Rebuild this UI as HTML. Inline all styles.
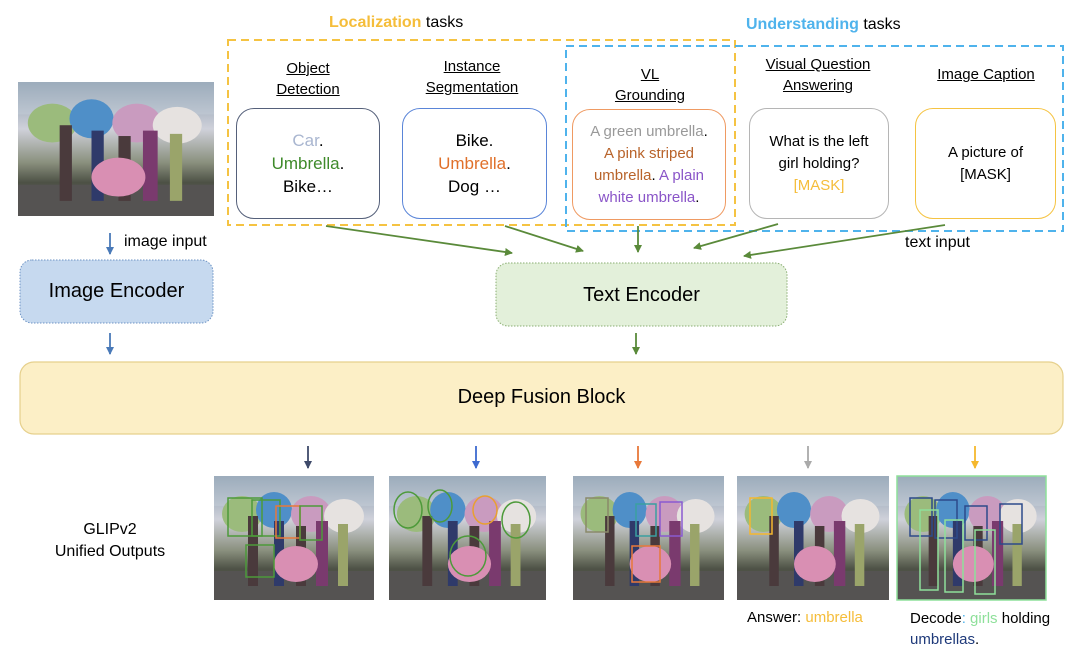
<!DOCTYPE html>
<html><head><meta charset="utf-8"><style>
body{margin:0;width:1080px;height:665px;background:#fff;position:relative;overflow:hidden;font-family:"Liberation Sans",sans-serif;color:#000}
.a{position:absolute}
.h{position:absolute;text-align:center;font-size:15px;line-height:21px;text-decoration:underline}
.box{position:absolute;border:1.5px solid;border-radius:18px;background:#fff;display:flex;align-items:center;justify-content:center;text-align:center;font-size:16px;line-height:22px}
</style></head><body>
<svg class="a" style="left:0;top:0" width="1080" height="665">
<defs>
<linearGradient id="sky" x1="0" y1="0" x2="0" y2="1"><stop offset="0" stop-color="#7f93a6"/><stop offset="0.35" stop-color="#cfd1da"/><stop offset="0.6" stop-color="#8a907e"/><stop offset="0.75" stop-color="#4d5145"/><stop offset="1" stop-color="#5e5c5c"/></linearGradient>
<symbol id="ph" viewBox="0 0 160 124" preserveAspectRatio="none">
<rect width="160" height="124" fill="url(#sky)"/>
<rect x="0" y="0" width="160" height="30" fill="#c9d1dc" opacity=".4"/>
<ellipse cx="28" cy="38" rx="20" ry="18" fill="#9bbb7c"/>
<ellipse cx="60" cy="34" rx="18" ry="18" fill="#4f8fc8"/>
<ellipse cx="97" cy="38" rx="20" ry="18" fill="#c99bbf"/>
<ellipse cx="130" cy="40" rx="20" ry="17" fill="#e6e2e0"/>
<rect x="0" y="95" width="160" height="29" fill="#555352"/>
<g fill="#4a3a3c"><rect x="34" y="40" width="10" height="70"/><rect x="60" y="45" width="10" height="65" fill="#2f3a6a"/><rect x="82" y="50" width="10" height="60"/><rect x="102" y="45" width="12" height="65" fill="#7a3a6e"/><rect x="124" y="48" width="10" height="62" fill="#9aa46a"/></g>
<ellipse cx="82" cy="88" rx="22" ry="18" fill="#d98fb3"/>
</symbol>
<marker id="m" markerWidth="8" markerHeight="8" refX="7" refY="4" orient="auto" markerUnits="userSpaceOnUse"><path d="M0,0 L8,4 L0,8z" fill="context-stroke"/></marker>
</defs>
<use href="#ph" x="18" y="82" width="196" height="134"/>
<rect x="228" y="40" width="507" height="185" fill="none" stroke="#f5c342" stroke-width="2" stroke-dasharray="8,5"/>
<rect x="566" y="46" width="497" height="185" fill="none" stroke="#4fb3ec" stroke-width="2" stroke-dasharray="8,5"/>
<g stroke-width="1.8" fill="none">
<line x1="326" y1="226" x2="512" y2="253" marker-end="url(#m)" stroke="#5a8a3a"/>
<line x1="505" y1="226" x2="583" y2="251" marker-end="url(#m)" stroke="#5a8a3a"/>
<line x1="638" y1="226" x2="638" y2="252" marker-end="url(#m)" stroke="#5a8a3a"/>
<line x1="778" y1="224" x2="694" y2="248" marker-end="url(#m)" stroke="#5a8a3a"/>
<line x1="945" y1="225" x2="744" y2="256" marker-end="url(#m)" stroke="#5a8a3a"/>
<line x1="636" y1="333" x2="636" y2="354" marker-end="url(#m)" stroke="#5a8a3a"/>
<line x1="110" y1="233" x2="110" y2="254" marker-end="url(#m)" stroke="#4a7ab8"/>
<line x1="110" y1="333" x2="110" y2="354" marker-end="url(#m)" stroke="#4a7ab8"/>
<line x1="308" y1="446" x2="308" y2="468" marker-end="url(#m)" stroke="#3e4a6a"/>
<line x1="476" y1="446" x2="476" y2="468" marker-end="url(#m)" stroke="#3d6ad0"/>
<line x1="638" y1="446" x2="638" y2="468" marker-end="url(#m)" stroke="#e8793a"/>
<line x1="808" y1="446" x2="808" y2="468" marker-end="url(#m)" stroke="#aaaaaa"/>
<line x1="975" y1="446" x2="975" y2="468" marker-end="url(#m)" stroke="#f5b82e"/>
</g>
<rect x="20" y="260" width="193" height="63" rx="12" fill="#c6d9ef" stroke="#6d93c4" stroke-dasharray="1.5,1.5"/>
<rect x="496" y="263" width="291" height="63" rx="12" fill="#e3f0da" stroke="#8aae72" stroke-dasharray="1.5,1.5"/>
<rect x="20" y="362" width="1043" height="72" rx="14" fill="#fcefc6" stroke="#e6d08c" stroke-width="1.2"/>
<use href="#ph" x="214" y="476" width="160" height="124"/>
<use href="#ph" x="389" y="476" width="157" height="124"/>
<use href="#ph" x="573" y="476" width="151" height="124"/>
<use href="#ph" x="737" y="476" width="152" height="124"/>
<use href="#ph" x="897" y="476" width="149" height="124"/>
<g fill="none" stroke-width="1.5">
<rect x="228" y="498" width="34" height="38" stroke="#4d9a3a"/><rect x="252" y="500" width="28" height="36" stroke="#4d9a3a"/><rect x="276" y="506" width="24" height="32" stroke="#e8793a"/><rect x="300" y="506" width="22" height="34" stroke="#4d9a3a"/><rect x="246" y="545" width="28" height="32" stroke="#4d9a3a"/>
<ellipse cx="408" cy="510" rx="14" ry="18" stroke="#4d9a3a"/><ellipse cx="440" cy="506" rx="12" ry="16" stroke="#4d9a3a"/><ellipse cx="485" cy="510" rx="12" ry="14" stroke="#e8a030"/><ellipse cx="516" cy="520" rx="14" ry="18" stroke="#4d9a3a"/><ellipse cx="468" cy="556" rx="18" ry="20" stroke="#4d9a3a"/>
<rect x="586" y="498" width="22" height="34" stroke="#8a8a6a"/><rect x="636" y="504" width="20" height="32" stroke="#3aa0a0"/><rect x="660" y="502" width="22" height="34" stroke="#8a5ad0"/><rect x="632" y="546" width="28" height="36" stroke="#e8793a"/>
<rect x="750" y="498" width="22" height="36" stroke="#f5b82e"/>
<rect x="897" y="476" width="149" height="124" stroke="#8ee09a"/><rect x="910" y="498" width="22" height="38" stroke="#2d4a8a"/><rect x="935" y="500" width="22" height="38" stroke="#2d4a8a"/><rect x="965" y="506" width="22" height="34" stroke="#2d4a8a"/><rect x="1000" y="504" width="22" height="40" stroke="#2d4a8a"/><rect x="920" y="510" width="18" height="80" stroke="#8ee09a"/><rect x="945" y="520" width="18" height="72" stroke="#8ee09a"/><rect x="975" y="530" width="20" height="64" stroke="#8ee09a"/>
</g>
</svg>
<div class="a" style="left:329px;top:14px;font-size:16px"><b style="color:#f5bd3a">Localization</b> tasks</div>
<div class="a" style="left:746px;top:16px;font-size:16px"><b style="color:#4fb3ec">Understanding</b> tasks</div>
<div class="h" style="left:248px;top:58px;width:120px">Object<br>Detection</div>
<div class="h" style="left:400px;top:56px;width:144px">Instance<br>Segmentation</div>
<div class="h" style="left:580px;top:64px;width:140px">VL<br>Grounding</div>
<div class="h" style="left:740px;top:54px;width:156px">Visual Question<br>Answering</div>
<div class="h" style="left:912px;top:64px;width:148px">Image Caption</div>
<div class="box" style="left:236px;top:108px;width:142px;height:109px;border-color:#55607a;font-size:17px;line-height:23px"><div><span style="color:#a9b6d0">Car</span>.<br><span style="color:#3e8a2a">Umbrella</span>.<br>Bike…</div></div>
<div class="box" style="left:402px;top:108px;width:143px;height:109px;border-color:#5a85d8;font-size:17px;line-height:23px"><div>Bike.<br><span style="color:#e0702a">Umbrella</span>.<br>Dog …</div></div>
<div class="box" style="left:572px;top:109px;width:152px;height:109px;border-color:#ef9a62;font-size:15px"><div><span style="color:#999">A green umbrella</span>.<br><span style="color:#b8632a">A pink striped<br>umbrella</span>. <span style="color:#8a55c8">A plain<br>white umbrella</span>.</div></div>
<div class="box" style="left:749px;top:108px;width:138px;height:109px;border-color:#b5b5b5;font-size:15px"><div>What is the left<br>girl holding?<br><span style="color:#f5bd3a">[MASK]</span></div></div>
<div class="box" style="left:915px;top:108px;width:139px;height:109px;border-color:#f5c342;font-size:15px"><div>A picture of<br>[MASK]</div></div>
<div class="a" style="left:124px;top:233px;font-size:16px">image input</div>
<div class="a" style="left:905px;top:234px;font-size:16px">text input</div>
<div class="a" style="left:20px;top:280px;width:193px;text-align:center;font-size:20px">Image Encoder</div>
<div class="a" style="left:496px;top:284px;width:291px;text-align:center;font-size:20px">Text Encoder</div>
<div class="a" style="left:20px;top:386px;width:1043px;text-align:center;font-size:20px">Deep Fusion Block</div>
<div class="a" style="left:30px;top:519px;width:160px;text-align:center;font-size:16px;line-height:22px">GLIPv2<br>Unified Outputs</div>
<div class="a" style="left:747px;top:609px;font-size:15px">Answer: <span style="color:#f5bd3a">umbrella</span></div>
<div class="a" style="left:910px;top:608px;font-size:15px;line-height:21px">Decode<span style="color:#4fb3ec">:</span> <span style="color:#8ee09a">girls</span> holding<br><span style="color:#1f3a7a">umbrellas</span>.</div>
</body></html>
